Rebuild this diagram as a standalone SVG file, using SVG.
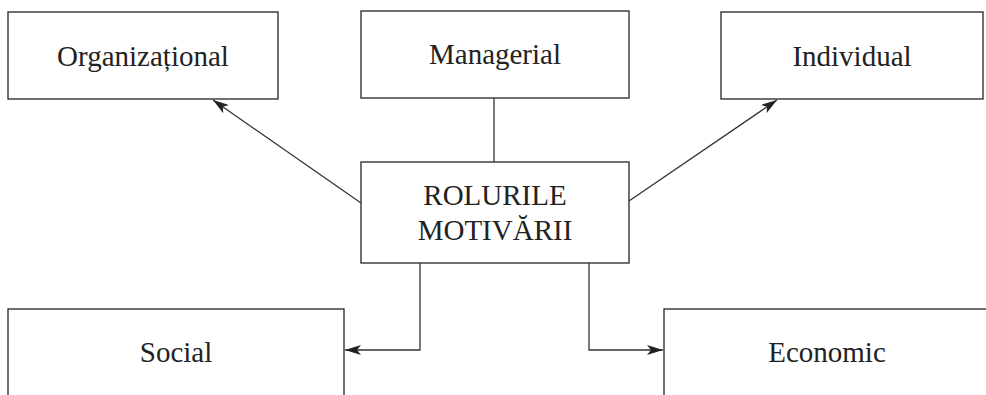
<svg xmlns="http://www.w3.org/2000/svg" width="986" height="395" viewBox="0 0 986 395">
  <style>
    .box { fill: #fff; stroke: #333; stroke-width: 1.4; }
    .lbl { font-family: "Liberation Serif", "Times New Roman", serif; font-size: 29px; fill: #222; text-anchor: middle; }
    .con { fill: none; stroke: #333; stroke-width: 1.3; }
  </style>
  <defs>
    <marker id="arr" viewBox="0 0 16 10" refX="16" refY="5" markerWidth="16" markerHeight="10" markerUnits="userSpaceOnUse" orient="auto">
      <path d="M0,0 L16,5 L0,10 L4,5 Z" fill="#222"/>
    </marker>
  </defs>

  <rect width="986" height="395" fill="#fff"/>

  <g id="organizational">
    <rect class="box" x="8" y="12" width="270" height="87"/>
    <text class="lbl" x="143" y="66">Organizațional</text>
  </g>
  <g id="managerial">
    <rect class="box" x="361" y="11" width="268" height="87"/>
    <text class="lbl" x="495" y="64">Managerial</text>
  </g>
  <g id="individual">
    <rect class="box" x="721" y="12" width="262" height="87"/>
    <text class="lbl" x="852" y="66">Individual</text>
  </g>
  <g id="rolurile">
    <rect class="box" x="361" y="162" width="268" height="101"/>
    <text class="lbl" x="495" y="205">ROLURILE</text>
    <text class="lbl" x="495" y="240">MOTIVĂRII</text>
  </g>
  <g id="social">
    <rect class="box" x="8" y="309" width="336" height="100"/>
    <text class="lbl" x="176" y="362">Social</text>
  </g>
  <g id="economic">
    <rect class="box" x="664" y="309" width="330" height="100"/>
    <text class="lbl" x="827" y="362">Economic</text>
  </g>

  <g id="connectors">
    <line class="con" x1="494" y1="98" x2="494" y2="162"/>
    <line class="con" x1="361" y1="203" x2="213" y2="100" marker-end="url(#arr)"/>
    <line class="con" x1="629" y1="201" x2="777" y2="100" marker-end="url(#arr)"/>
    <polyline class="con" points="420,263 420,350 345,350" marker-end="url(#arr)"/>
    <polyline class="con" points="589,263 589,350 663,350" marker-end="url(#arr)"/>
  </g>
</svg>
